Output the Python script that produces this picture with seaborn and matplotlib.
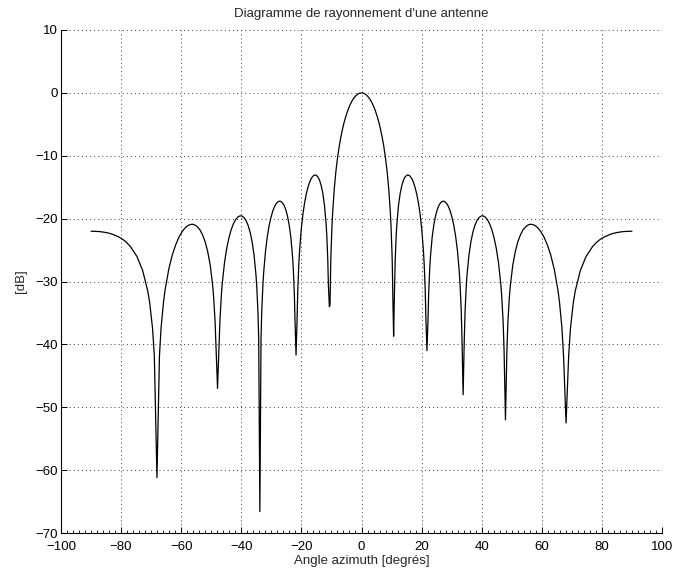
import matplotlib
matplotlib.use("Agg")
import matplotlib.pyplot as plt
import pandas as pd
import seaborn as sns
from matplotlib.ticker import MultipleLocator

# Values (azimuth in degrees, level in dB)
angle_left = [-90.0, -87.53, -86.51, -85.06, -83.95, -83.02, -80.755, -79.51, -78.40, -76.913, -74.74, -72.838, -71.12, -70.474, -69.541, -68.941, -68.07,
              -67.233, -66.697, -65.894, -65.391, -64.133, -62.964, -61.794, -60.708, -59.622, -58.616, -57.609, -56.603, -56.219,
              -55.663, -54.735, -53.808, -52.927, -52.046, -51.198, -50.349, -49.525, -49.196, -48.712, -48.39, -47.91,
              -47.438, -47.126, -46.658, -46.351, -45.585, -44.835, -44.085, -43.355, -42.624, -41.914, -41.203, -40.493, -40.074,
              -39.8, -39.114, -38.428, -37.756, -37.083, -36.423, -35.762, -35.111, -34.85, -34.463, -34.205, -33.82,
              -33.437, -33.183, -32.802, -32.551, -31.922, -31.3, -30.677, -30.063, -29.449, -28.844, -28.239, -27.634, -27.155,
              -27.036, -26.442, -25.848, -25.261, -24.673, -24.091, -23.509, -22.931, -22.7, -22.354, -22.124, -21.78,
              -21.438, -21.21, -20.868, -20.641, -20.074, -19.51, -18.946, -18.386, -17.825, -17.27, -16.714, -16.158, -15.606,
              -15.385, -15.055, -14.505, -13.958, -13.41, -12.865, -12.319, -11.776, -11.559, -11.233, -11.016, -10.69,
              -10.476, -10.26, -10.152, -9.828, -9.612, -9.074, -8.535, -7.998, -7.462, -6.926, -6.391, -5.857, -5.323,
              -4.789, -4.256, -3.723, -3.191, -2.659, -2.127, -1.595, -1.063, -0.532]
gain_left = [-22.00, -22.05, -22.10, -22.21, -22.33, -22.46, -22.92, -23.28, -23.69, -24.43, -26.01, -28.23, -31.54, -33.42, -37.42, -41.83, -61.2,
             -41.79, -37.36, -33.32, -31.42, -28.04, -25.77, -24.12, -22.91, -22.03, -21.43, -21.05, -20.90, -20.90,
             -20.96, -21.24, -21.75, -22.54, -23.65, -25.20, -27.38, -30.66, -32.53, -36.51, -40.90, -47.0,
             -40.82, -36.38, -32.32, -30.40, -26.99, -24.68, -22.99, -21.74, -20.82, -20.18, -19.76, -19.57, -19.56,
             -19.59, -19.83, -20.30, -21.05, -22.12, -23.63, -25.76, -28.99, -30.84, -34.79, -39.17, -66.6,
             -39.03, -34.57, -30.48, -28.54, -25.08, -22.72, -20.98, -19.68, -18.70, -18.00, -17.52, -17.27, -17.22,
             -17.23, -17.40, -17.81, -18.49, -19.49, -20.93, -22.99, -26.14, -27.96, -31.87, -36.21, -41.7,
             -35.97, -31.47, -27.33, -25.35, -21.80, -19.34, -17.51, -16.10, -15.02, -14.20, -13.61, -13.24, -13.07,
             -13.06, -13.11, -13.37, -13.89, -14.74, -16.00, -17.88, -20.85, -22.59, -26.36, -30.62, -34.0,
             -33.71, -27.54, -25.52, -21.22, -19.15, -15.32, -12.56, -10.40, -8.64, -7.16, -5.91, -4.83, -3.90,
             -3.10, -2.40, -1.81, -1.32, -0.91, -0.58, -0.32, -0.14, -0.04]

angle_right = [0.0, 0.532, 1.063, 1.595, 2.127, 2.659, 3.191, 3.723, 4.256, 4.789, 5.323, 5.857, 6.391, 6.926, 7.462,
               7.998, 8.535, 9.074, 9.612, 9.828, 10.152, 10.26, 10.476, 10.69,
               11.016, 11.233, 11.559, 11.776, 12.319, 12.865, 13.41, 13.958, 14.505, 15.055, 15.385, 15.606, 16.158,
               16.714, 17.27, 17.825, 18.386, 18.946, 19.51, 20.074, 20.641, 20.868, 21.21, 21.438, 21.78,
               22.124, 22.354, 22.7, 22.931, 23.509, 24.091, 24.673, 25.261, 25.848, 26.442, 27.036, 27.155, 27.634,
               28.239, 28.844, 29.449, 30.063, 30.677, 31.3, 31.922, 32.551, 32.802, 33.183, 33.437, 33.82,
               34.205, 34.463, 34.85, 35.111, 35.762, 36.423, 37.083, 37.756, 38.428, 39.114, 39.8, 40.074, 40.493,
               41.203, 41.914, 42.624, 43.355, 44.085, 44.835, 45.585, 46.351, 46.658, 47.126, 47.438, 47.91,
               48.39, 48.712, 49.196, 49.525, 50.349, 51.198, 52.046, 52.927, 53.808, 54.735, 55.663, 56.219, 56.603,
               57.609, 58.616, 59.622, 60.708, 61.794, 62.964, 64.133, 65.391, 65.894, 66.697, 67.233, 68.07,
               68.941, 69.541, 70.474, 71.12, 72.838, 74.74, 76.913, 78.40, 79.51, 80.755, 83.02, 83.95, 85.06,
               86.51, 87.53, 90.0]
gain_right = [0.0, -0.04, -0.14, -0.32, -0.58, -0.91, -1.32, -1.81, -2.40, -3.10, -3.90, -4.83, -5.91, -7.16, -8.64,
              -10.40, -12.56, -15.32, -19.15, -21.22, -25.52, -27.54, -33.71, -38.7,
              -30.62, -26.36, -22.59, -20.85, -17.88, -16.00, -14.74, -13.89, -13.37, -13.11, -13.06, -13.07, -13.24,
              -13.61, -14.20, -15.02, -16.10, -17.51, -19.34, -21.80, -25.35, -27.33, -31.47, -35.97, -41.0,
              -36.21, -31.87, -27.96, -26.14, -22.99, -20.93, -19.49, -18.49, -17.81, -17.40, -17.23, -17.22, -17.27,
              -17.52, -18.00, -18.70, -19.68, -20.98, -22.72, -25.08, -28.54, -30.48, -34.57, -39.03, -48.0,
              -39.17, -34.79, -30.84, -28.99, -25.76, -23.63, -22.12, -21.05, -20.30, -19.83, -19.59, -19.56, -19.57,
              -19.76, -20.18, -20.82, -21.74, -22.99, -24.68, -26.99, -30.40, -32.32, -36.38, -40.82, -52.0,
              -40.90, -36.51, -32.53, -30.66, -27.38, -25.20, -23.65, -22.54, -21.75, -21.24, -20.96, -20.90, -20.90,
              -21.05, -21.43, -22.03, -22.91, -24.12, -25.77, -28.04, -31.42, -33.32, -37.36, -41.79, -52.5,
              -41.83, -37.42, -33.42, -31.54, -28.23, -26.01, -24.43, -23.69, -23.28, -22.92, -22.46, -22.33, -22.21,
              -22.10, -22.05, -22.00]

x_ticks = [-100, -80, -60, -40, -20, 0, 20, 40, 60, 80, 100]
y_ticks = [10, 0, -10, -20, -30, -40, -50, -60, -70]

title_text = "Diagramme de rayonnement d'une antenne"
x_label = "Angle azimuth [degrés]"
y_label = "[dB]"

df = pd.DataFrame({"angle": angle_left + angle_right, "gain": gain_left + gain_right})

sns.set_theme(style="white")
plt.rcParams["font.family"] = ["Liberation Sans", "DejaVu Sans"]

fig = plt.figure(figsize=(6.74, 5.73), dpi=100)
ax = fig.add_axes([61 / 674, 40 / 573, 601 / 674, 503 / 573])

sns.lineplot(data=df, x="angle", y="gain", ax=ax, color="black", linewidth=0.9,
             estimator=None, sort=True)

ax.set_xlim(-100, 100)
ax.set_ylim(-70, 10)
ax.set_xticks(x_ticks)
ax.set_yticks(y_ticks)
ax.set_xticklabels([str(t).replace("-", "\u2212") for t in x_ticks])
ax.set_yticklabels([str(t).replace("-", "\u2212") for t in y_ticks])
ax.xaxis.set_minor_locator(MultipleLocator(2))

ax.grid(True, which="major", color="0.25", linestyle=(0, (1, 3.2)), linewidth=0.7)
for s in ["top", "right"]:
    ax.spines[s].set_visible(False)
for s in ["left", "bottom"]:
    ax.spines[s].set_visible(True)
    ax.spines[s].set_color("black")
    ax.spines[s].set_linewidth(0.8)

ax.tick_params(axis="both", which="major", direction="in", length=4, width=0.7,
               colors="black", labelsize=9.5)
ax.tick_params(axis="x", which="major", pad=6, bottom=True)
ax.tick_params(axis="y", which="major", pad=2.5, left=True)
ax.tick_params(axis="x", which="minor", direction="in", length=2.2, width=0.6,
               colors="black", bottom=True)

ax.set_title(title_text, fontsize=9.5, pad=9)
ax.set_xlabel(x_label, fontsize=9.5, labelpad=1)
ax.set_ylabel(y_label, fontsize=9.5, labelpad=6)

fig.savefig("out.png", dpi=100)
